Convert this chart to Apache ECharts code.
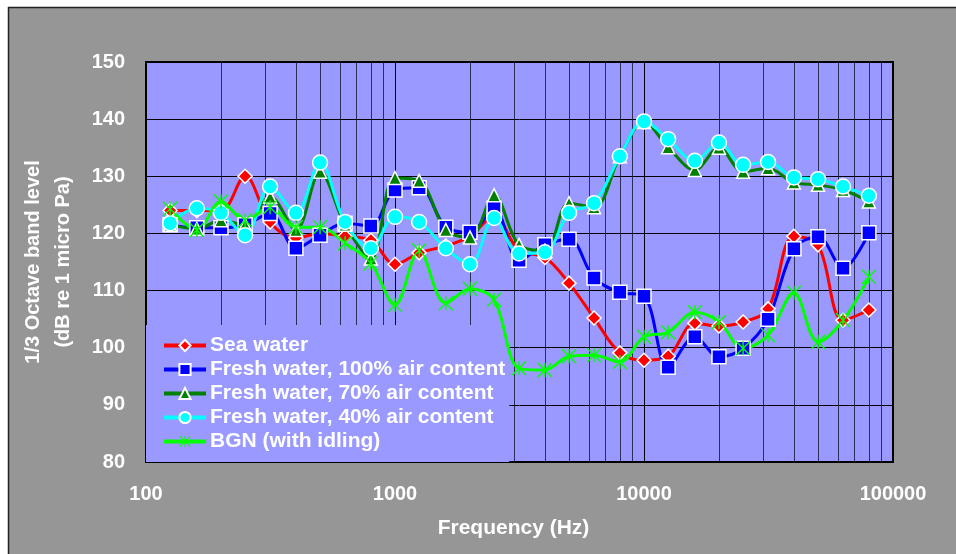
<!DOCTYPE html>
<html>
<head>
<meta charset="utf-8">
<script src="https://cdn.jsdelivr.net/npm/echarts@6/dist/echarts.min.js"></script>
<style>html,body{margin:0;padding:0;background:#fff;}#c{width:956px;height:554px;}</style>
</head>
<body>
<div id="c"></div>
<script>
const freqs = [125,160,200,250,315,400,500,630,800,1000,1250,1600,2000,2500,3150,4000,5000,6300,8000,10000,12500,16000,20000,25000,31500,40000,50000,63000,80000];
const seaWater = [124,124,124,130,122,119.2,120,119.5,118.8,114.6,116.6,117.8,119.5,123,117,115.8,111.3,105.2,99.1,97.8,98.5,104.3,103.8,104.5,106.8,119.5,118,104.8,106.6];
const fresh100 = [121.5,121,121,121.5,123.5,117.4,119.7,121.8,121.3,127.6,128,121.1,120.2,124.4,115.3,118,119,112.2,109.7,109,96.6,101.9,98.4,99.9,105,117.3,119.4,113.9,120.1];
const fresh70 = [121.5,120.8,122.3,121.5,126.4,120.6,130.8,121.5,115.6,129.7,129.2,120.6,119.3,126.7,118,117,125.3,124.6,133.5,139.5,135.1,131.1,135,130.8,131.4,128.9,128.5,127.6,125.6];
const fresh40 = [121.8,124.4,123.6,119.7,128.2,123.6,132.4,122,117.4,122.9,122,117.4,114.6,122.7,116.5,116.7,123.6,125.3,133.5,139.6,136.5,132.7,135.9,132,132.5,129.8,129.5,128.2,126.6];
const bgn = [124.3,120.6,125.6,122.3,124.6,121.1,121.1,118.3,114.8,107.5,117,107.8,110.3,108.4,96.4,96.1,98.5,98.7,97.5,101.9,102.7,106.2,104.5,99.9,102.2,109.6,101,104.8,112.4];
const seriesNames = ['Sea water','Fresh water, 100% air content','Fresh water, 70% air content','Fresh water, 40% air content','BGN (with idling)'];
const minorGridFreqs = [200,300,400,500,600,700,800,900,2000,3000,4000,5000,6000,7000,8000,9000,20000,30000,40000,50000,60000,70000,80000,90000];
const yTitle = '1/3 Octave band level\n(dB re 1 micro Pa)';
const xTitle = 'Frequency (Hz)';

const pair = arr => freqs.map((f,i)=>[f,arr[i]]);
const star = 'path://M-1,-10L1,-10L1,10L-1,10Z M-9.3,-10.7L10.7,9.3L9.3,10.7L-10.7,-9.3Z M9.3,-10.7L10.7,-9.3L-9.3,10.7L-10.7,9.3Z';
const font = 'Liberation Sans, Arial, sans-serif';

function mk(name, data, color, symbol, size, border){
  return {
    name, type:'line', data: pair(data), smooth:0.35, z:3,
    symbol, symbolSize:size, showSymbol:true,
    lineStyle:{color, width:3},
    itemStyle:{color, borderColor: border ? '#fff' : color, borderWidth: border ? 1.5 : 0},
    emphasis:{disabled:true}
  };
}

const chart = echarts.init(document.getElementById('c'), null, {renderer:'canvas'});
chart.setOption({
  backgroundColor:'#969696',
  animation:false,
  graphic:[
    {type:'rect', shape:{x:0,y:0,width:956,height:7}, style:{fill:'#fff'}, silent:true},
    {type:'rect', shape:{x:0,y:0,width:8,height:554}, style:{fill:'#fff'}, silent:true},
    {type:'line', shape:{x1:8,y1:7.5,x2:956,y2:7.5}, style:{stroke:'#222',lineWidth:1.5}, silent:true},
    {type:'line', shape:{x1:8.5,y1:7,x2:8.5,y2:554}, style:{stroke:'#222',lineWidth:1.5}, silent:true}
  ],
  grid:{left:146, right:63, top:62, bottom:92, show:true, backgroundColor:'#9999ff', borderColor:'#000', borderWidth:2},
  xAxis:{
    type:'log', logBase:10, min:100, max:100000,
    axisLine:{show:false}, axisTick:{show:false},
    axisLabel:{color:'#fff', fontSize:20, fontWeight:'bold', fontFamily:font, margin:22, formatter: v => String(Math.round(v))},
    splitLine:{show:true, lineStyle:{color:'#000', width:1}},
    name:xTitle, nameLocation:'middle', nameGap:56,
    nameTextStyle:{color:'#fff', fontSize:21, fontWeight:'bold', fontFamily:font, padding:[0,12,0,0]}
  },
  yAxis:{
    type:'value', min:80, max:150, interval:10,
    axisLine:{show:false}, axisTick:{show:false},
    axisLabel:{color:'#fff', fontSize:20, fontWeight:'bold', fontFamily:font, margin:21},
    splitLine:{show:true, lineStyle:{color:'#000', width:1}},
    name:yTitle, nameLocation:'middle', nameRotate:90, nameGap:68,
    nameTextStyle:{color:'#fff', fontSize:20, fontWeight:'bold', fontFamily:font, lineHeight:30}
  },
  legend:{
    left:146, top:325, orient:'vertical', padding:[10,4,10,16], z:2,
    backgroundColor:'#9999ff', itemWidth:42, itemHeight:14, itemGap:3,
    lineStyle:{width:4},
    textStyle:{color:'#fff', fontSize:21, fontWeight:'bold', fontFamily:font, padding:[0,0,0,-1]},
    data: seriesNames, selectedMode:false
  },
  series:[
    {type:'line', data:[], z:1, silent:true,
     markLine:{silent:true, z:1, symbol:'none', label:{show:false},
       lineStyle:{color:'#1a1a40', width:1, type:'solid', opacity:0.85},
       emphasis:{disabled:true},
       data: minorGridFreqs.map(f=>({xAxis:f}))}},
    mk(seriesNames[0], seaWater, '#ff0000', 'diamond', 14, true),
    mk(seriesNames[1], fresh100, '#0000ff', 'rect', 14, true),
    mk(seriesNames[2], fresh70, '#008000', 'triangle', 13, true),
    mk(seriesNames[3], fresh40, '#00ffff', 'circle', 15, true),
    mk(seriesNames[4], bgn, '#00ff00', star, 15, false)
  ]
});
</script>
</body>
</html>
